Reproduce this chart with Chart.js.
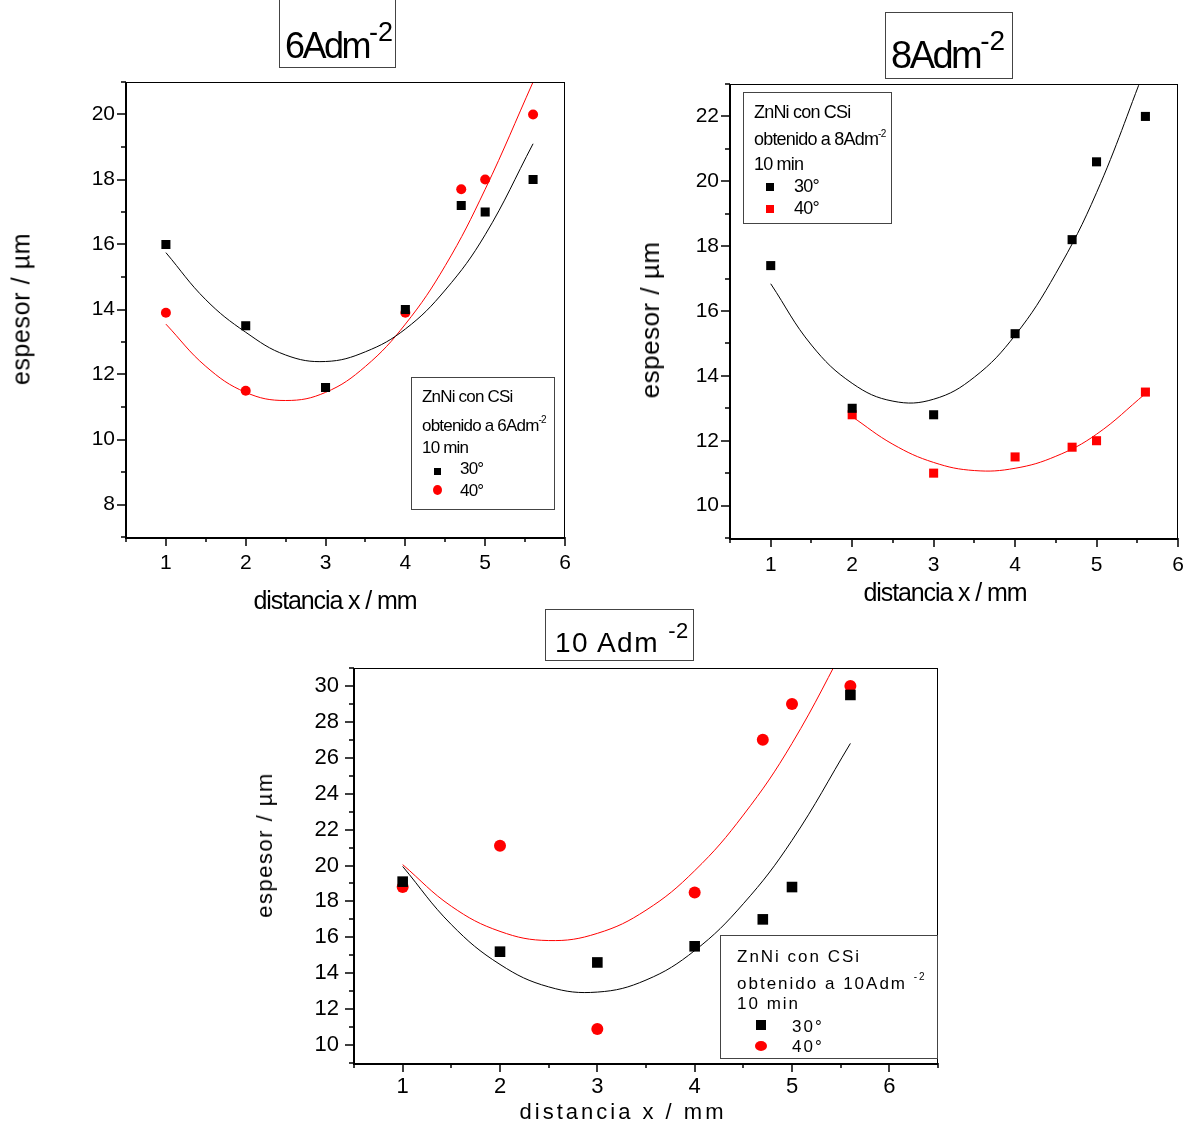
<!DOCTYPE html>
<html lang="es">
<head>
<meta charset="UTF-8" />
<title>Espesor vs distancia</title>
<script src="https://cdn.jsdelivr.net/npm/chart.js"></script>
<style>
  html, body { margin: 0; padding: 0; background: #fff; }
  #page { position: relative; width: 1191px; height: 1126px; overflow: hidden; }
  canvas { position: absolute; }
  .t { position: absolute; font-family: 'Liberation Sans', Arial, sans-serif; color: #000; white-space: nowrap; line-height: 1; }
  .box { position: absolute; border: 1px solid #444; box-sizing: border-box; }
  .ylab { transform: translate(-50%, -50%) rotate(-90deg); }
  .xlab { transform: translateX(-50%); }
  .up { position: relative; }
  .sq { position: absolute; }
</style>
</head>
<body>
<div id="page">
  <canvas id="c6" width="600" height="535" style="left:0;top:65px"></canvas>
  <canvas id="c8" width="586" height="532" style="left:605px;top:68px"></canvas>
  <canvas id="c10" width="700" height="455" style="left:250px;top:650px"></canvas>

  <!-- 6 A/dm2 -->
  <div class="box" style="left:279px;top:-2px;width:117px;height:70px;border-top:none"></div>
  <div class="t" style="left:285px;top:28px;font-size:36px;letter-spacing:-2.5px">6Adm<span class="up" style="font-size:27px;top:-17px;letter-spacing:0">-2</span></div>
  <div class="t ylab" style="left:21px;top:309px;font-size:25px;letter-spacing:0.6px">espesor / µm</div>
  <div class="t xlab" style="left:335px;top:588px;font-size:25px;letter-spacing:-1.1px">distancia x / mm</div>
  <div class="box" style="left:411px;top:377px;width:144px;height:133px">
    <div class="t" style="left:10px;top:10px;font-size:17px;letter-spacing:-0.8px">ZnNi con CSi</div>
    <div class="t" style="left:10px;top:39px;font-size:17px;letter-spacing:-0.8px">obtenido a 6Adm<span class="up" style="font-size:10px;top:-8px">-2</span></div>
    <div class="t" style="left:10px;top:61px;font-size:17px;letter-spacing:-0.8px">10 min</div>
    <div class="sq" style="left:22px;top:90px;width:7px;height:7px;background:#000"></div>
    <div class="t" style="left:48px;top:82px;font-size:17px;letter-spacing:-0.8px">30°</div>
    <div class="sq" style="left:21px;top:107px;width:9px;height:10px;background:#f00;border-radius:50%"></div>
    <div class="t" style="left:48px;top:104px;font-size:17px;letter-spacing:-0.8px">40°</div>
  </div>

  <!-- 8 A/dm2 -->
  <div class="box" style="left:885px;top:12px;width:128px;height:67px"></div>
  <div class="t" style="left:891px;top:36px;font-size:38px;letter-spacing:-2.5px">8Adm<span class="up" style="font-size:28px;top:-18px;letter-spacing:0">-2</span></div>
  <div class="t ylab" style="left:650px;top:320px;font-size:26px;letter-spacing:0.5px">espesor / µm</div>
  <div class="t xlab" style="left:945px;top:580px;font-size:25px;letter-spacing:-1.1px">distancia x / mm</div>
  <div class="box" style="left:743px;top:92px;width:149px;height:132px">
    <div class="t" style="left:10px;top:10px;font-size:18px;letter-spacing:-0.8px">ZnNi con CSi</div>
    <div class="t" style="left:10px;top:37px;font-size:18px;letter-spacing:-0.8px">obtenido a 8Adm<span class="up" style="font-size:10px;top:-8px">-2</span></div>
    <div class="t" style="left:10px;top:62px;font-size:18px;letter-spacing:-0.8px">10 min</div>
    <div class="sq" style="left:22px;top:90px;width:8px;height:8px;background:#000"></div>
    <div class="t" style="left:50px;top:84px;font-size:18px;letter-spacing:-0.8px">30°</div>
    <div class="sq" style="left:22px;top:112px;width:8px;height:8px;background:#f00"></div>
    <div class="t" style="left:50px;top:106px;font-size:18px;letter-spacing:-0.8px">40°</div>
  </div>

  <!-- 10 A/dm2 -->
  <div class="box" style="left:545px;top:609px;width:149px;height:52px"></div>
  <div class="t" style="left:555px;top:629px;font-size:28px;letter-spacing:1.5px">10 Adm <span class="up" style="font-size:22px;top:-14px;letter-spacing:0.5px">-2</span></div>
  <div class="t ylab" style="left:265px;top:845px;font-size:22px;letter-spacing:1.5px">espesor / µm</div>
  <div class="t xlab" style="left:623px;top:1101px;font-size:22px;letter-spacing:3px">distancia x / mm</div>
  <div class="box" style="left:720px;top:935px;width:218px;height:124px">
    <div class="t" style="left:16px;top:12px;font-size:17px;letter-spacing:2px">ZnNi con CSi</div>
    <div class="t" style="left:16px;top:39px;font-size:17px;letter-spacing:2px">obtenido a 10Adm <span class="up" style="font-size:10px;top:-9px">-2</span></div>
    <div class="t" style="left:16px;top:59px;font-size:17px;letter-spacing:2px">10 min</div>
    <div class="sq" style="left:35px;top:84px;width:10px;height:10px;background:#000"></div>
    <div class="t" style="left:71px;top:82px;font-size:17px;letter-spacing:2px">30°</div>
    <div class="sq" style="left:34px;top:105px;width:12px;height:10px;background:#f00;border-radius:50%"></div>
    <div class="t" style="left:71px;top:102px;font-size:17px;letter-spacing:2px">40°</div>
  </div>
</div>

<script>
// distances where thickness was measured (mm)
const xPos = [1, 2, 3, 4, 4.7, 5, 5.6];

// 6 A/dm2
const e6_30 = [16, 13.5, 11.6, 14, 17.2, 17, 18];
const e6_40 = [13.9, 11.5, null, 13.9, 17.7, 18, 20];
const fit6X = [1, 1.5, 2, 2.5, 3, 3.5, 4, 4.5, 5, 5.6];
const fit6_30 = [15.75, 14.3, 13.3, 12.6, 12.4, 12.7, 13.4, 14.6, 16.3, 19.1];
const fit6_40 = [13.55, 12.25, 11.45, 11.2, 11.45, 12.25, 13.55, 15.35, 17.7, 21.0];

// 8 A/dm2
const e8_30 = [17.4, 13, 12.8, 15.3, 18.2, 20.6, 22];
const e8_40 = [null, 12.8, 11, 11.5, 11.8, 12, 13.5];
const fit8X_30 = [1, 1.5, 2, 2.5, 3, 3.5, 4, 4.5, 5, 5.6];
const fit8_30 = [16.84, 14.95, 13.77, 13.22, 13.28, 13.96, 15.25, 17.16, 19.65, 23.5];
const fit8X_40 = [2, 2.5, 3, 3.5, 4, 4.5, 5, 5.6];
const fit8_40 = [12.74, 11.89, 11.33, 11.08, 11.15, 11.52, 12.2, 13.45];

// 10 A/dm2
const e10_30 = [19.1, 15.2, 14.6, 15.5, 17, 18.8, 29.5];
const e10_40 = [18.8, 21.1, 10.9, 18.5, 27, 29, 30];
const fit10X = [1, 1.5, 2, 2.5, 3, 3.5, 4, 4.5, 5, 5.6];
const fit10_30 = [19.95, 16.71, 14.49, 13.24, 12.95, 13.62, 15.26, 17.87, 21.4, 26.8];
const fit10_40 = [20.05, 17.73, 16.33, 15.82, 16.22, 17.51, 19.71, 22.81, 26.8, 32.8];

const FONT = "'Liberation Sans', Arial, sans-serif";

function pts(xs, ys) {
  return xs.map((x, i) => ({ x: x, y: ys[i] })).filter(p => p.y !== null);
}

// frame around plot + outward major/minor ticks
const frameTicks = {
  id: 'frameTicks',
  afterDraw(chart) {
    const { ctx, chartArea: a, scales } = chart;
    const xs = scales.x, ys = scales.y;
    ctx.save();
    ctx.strokeStyle = '#000';
    ctx.lineWidth = 1;
    ctx.beginPath();
    ctx.moveTo(a.left, a.top + 0.5); ctx.lineTo(a.right, a.top + 0.5);
    ctx.moveTo(a.right - 0.5, a.top); ctx.lineTo(a.right - 0.5, a.bottom);
    ctx.stroke();
    ctx.lineWidth = 2;
    ctx.beginPath();
    ctx.moveTo(a.left, a.top); ctx.lineTo(a.left, a.bottom + 1);
    ctx.lineTo(a.right, a.bottom + 1);
    ctx.stroke();
    ctx.lineWidth = 1.5;
    ctx.beginPath();
    for (let v = xs.min; v <= xs.max + 1e-6; v += 0.5) {
      const px = Math.round(xs.getPixelForValue(v));
      const len = Number.isInteger(v) ? 8 : 4;
      ctx.moveTo(px, a.bottom); ctx.lineTo(px, a.bottom + 1 + len);
    }
    for (let v = ys.min; v <= ys.max + 1e-6; v += 1) {
      const py = Math.round(ys.getPixelForValue(v));
      const len = v % 2 === 0 ? 8 : 4;
      ctx.moveTo(a.left, py); ctx.lineTo(a.left - 1 - len, py);
    }
    ctx.stroke();
    ctx.restore();
  }
};

function makeChart(id, cfg) {
  const cv = document.getElementById(id);
  const left = parseFloat(cv.style.left) || 0;
  const top = parseFloat(cv.style.top) || 0;
  const a = cfg.area;
  const datasets = [];
  cfg.fits.forEach(f => datasets.push({
    data: pts(f.x, f.y), showLine: true, borderColor: f.color, borderWidth: 1,
    pointRadius: 0, tension: 0.4, fill: false, order: 3
  }));
  cfg.series.forEach((s, i) => datasets.push({
    data: pts(xPos, s.y), showLine: false, pointStyle: s.style, pointRadius: s.r,
    backgroundColor: s.color, borderColor: s.color, borderWidth: 0, order: 2 - i
  }));
  return new Chart(cv, {
    type: 'scatter',
    data: { datasets: datasets },
    options: {
      responsive: false,
      animation: false,
      events: [],
      layout: { padding: { top: a.t - top, right: left + cv.width - a.r, left: 0, bottom: 0 } },
      plugins: { legend: { display: false }, tooltip: { enabled: false } },
      scales: {
        x: {
          type: 'linear', min: cfg.xMin, max: cfg.xMax,
          grid: { display: false, drawTicks: false }, border: { display: false },
          afterFit: s => { s.height = top + cv.height - a.b; s.paddingLeft = 0; s.paddingRight = 0; },
          ticks: {
            stepSize: 0.5, autoSkip: false, maxRotation: 0, padding: cfg.xPad, color: '#000',
            font: { family: FONT, size: cfg.fontSize },
            callback: v => Number.isInteger(v) ? v : ''
          }
        },
        y: {
          type: 'linear', min: cfg.yMin, max: cfg.yMax,
          grid: { display: false, drawTicks: false }, border: { display: false },
          afterFit: s => { s.width = a.l - left; s.paddingTop = 0; s.paddingBottom = 0; },
          ticks: {
            stepSize: 1, autoSkip: false, padding: cfg.yPad, color: '#000',
            font: { family: FONT, size: cfg.fontSize },
            callback: v => v % 2 === 0 ? v : ''
          }
        }
      }
    },
    plugins: [frameTicks]
  });
}

makeChart('c6', {
  area: { l: 126, t: 82, r: 565, b: 537 },
  xMin: 0.5, xMax: 6, yMin: 7, yMax: 21, fontSize: 21, xPad: 14, yPad: 11,
  fits: [
    { x: fit6X, y: fit6_30, color: '#000' },
    { x: fit6X, y: fit6_40, color: '#ff0000' }
  ],
  series: [
    { y: e6_40, style: 'circle', r: 5, color: '#ff0000' },
    { y: e6_30, style: 'rect', r: 6.4, color: '#000' }
  ]
});

makeChart('c8', {
  area: { l: 730, t: 84, r: 1178, b: 538 },
  xMin: 0.5, xMax: 6, yMin: 9, yMax: 23, fontSize: 21, xPad: 15, yPad: 11,
  fits: [
    { x: fit8X_30, y: fit8_30, color: '#000' },
    { x: fit8X_40, y: fit8_40, color: '#ff0000' }
  ],
  series: [
    { y: e8_40, style: 'rect', r: 6.4, color: '#ff0000' },
    { y: e8_30, style: 'rect', r: 6.4, color: '#000' }
  ]
});

makeChart('c10', {
  area: { l: 354, t: 668, r: 938, b: 1063 },
  xMin: 0.5, xMax: 6.5, yMin: 9, yMax: 31, fontSize: 22, xPad: 11, yPad: 15,
  fits: [
    { x: fit10X, y: fit10_30, color: '#000' },
    { x: fit10X, y: fit10_40, color: '#ff0000' }
  ],
  series: [
    { y: e10_40, style: 'circle', r: 6, color: '#ff0000' },
    { y: e10_30, style: 'rect', r: 7.5, color: '#000' }
  ]
});
</script>
</body>
</html>
